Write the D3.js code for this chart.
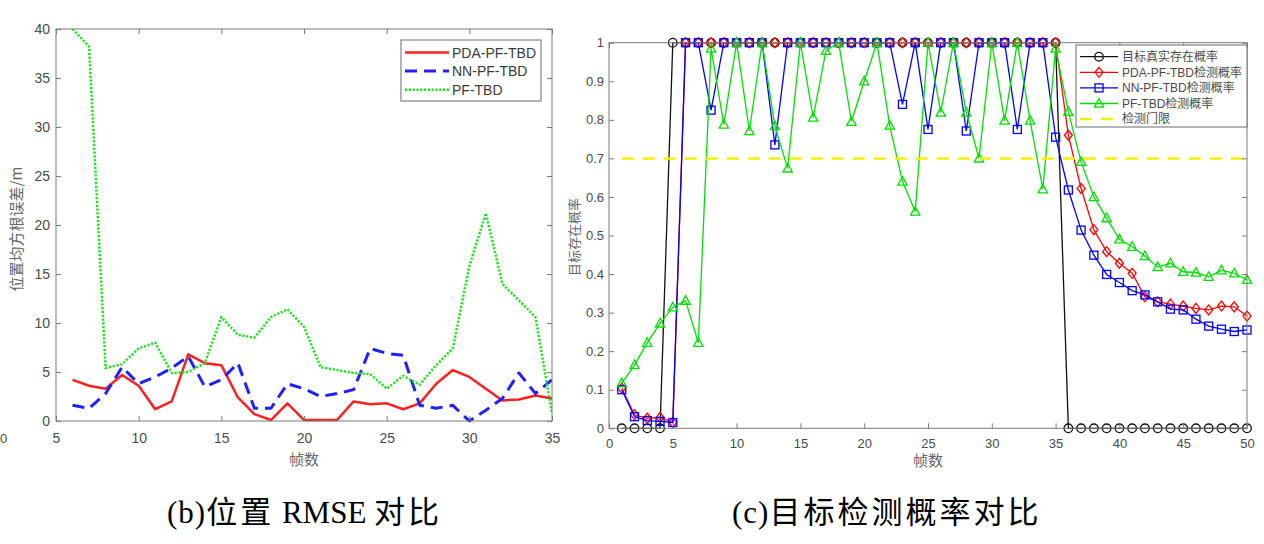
<!DOCTYPE html>
<html>
<head>
<meta charset="utf-8">
<script src="https://cdn.jsdelivr.net/npm/d3@7"></script>
<style>
  body { margin: 0; background: #fff; }
  svg { display: block; }
</style>
</head>
<body>
<svg id="chart" width="1264" height="544"></svg>
<script>
// datos (b) RMSE, frames 6..35
var rmseFrames = [6, 7, 8, 9, 10, 11, 12, 13, 14, 15, 16, 17, 18, 19, 20,
                  21, 22, 23, 24, 25, 26, 27, 28, 29, 30, 31, 32, 33, 34, 35];
var rmsePda = [4.2, 3.6, 3.3, 4.7, 3.6, 1.2, 2.0, 6.8, 5.9, 5.7, 2.4, 0.7, 0.1, 1.8, 0.1,
               0.1, 0.1, 2.0, 1.7, 1.8, 1.2, 1.8, 3.8, 5.2, 4.5, 3.3, 2.1, 2.2, 2.6, 2.3];
var rmseNn = [1.6, 1.3, 2.8, 5.5, 3.8, 4.5, 5.4, 6.6, 3.5, 4.2, 5.9, 1.3, 1.3, 3.8, 3.3,
              2.5, 2.8, 3.2, 7.4, 6.9, 6.7, 1.6, 1.3, 1.6, 0.0, 1.1, 2.3, 4.9, 2.8, 4.2];
var rmsePf = [40, 38.2, 5.4, 5.8, 7.4, 8.0, 4.9, 5.0, 5.9, 10.6, 8.8, 8.5, 10.6, 11.4, 9.6,
              5.5, 5.2, 4.9, 4.8, 3.3, 4.6, 3.7, 5.7, 7.4, 15.8, 21.2, 14.0, 12.3, 10.6, 0.8];
var rmseNames = ["PDA-PF-TBD", "NN-PF-TBD", "PF-TBD"];
var rmseXTicks = [5, 10, 15, 20, 25, 30, 35];
var rmseYTicks = [0, 5, 10, 15, 20, 25, 30, 35, 40];

// datos (c) probabilidad, frames 1..50
var probFrames = [1, 2, 3, 4, 5, 6, 7, 8, 9, 10, 11, 12, 13, 14, 15, 16, 17, 18, 19, 20,
                  21, 22, 23, 24, 25, 26, 27, 28, 29, 30, 31, 32, 33, 34, 35, 36, 37, 38, 39, 40,
                  41, 42, 43, 44, 45, 46, 47, 48, 49, 50];
var probTrue = [0, 0, 0, 0, 1, 1, 1, 1, 1, 1, 1, 1, 1, 1, 1, 1, 1, 1, 1, 1,
                1, 1, 1, 1, 1, 1, 1, 1, 1, 1, 1, 1, 1, 1, 1, 0, 0, 0, 0, 0,
                0, 0, 0, 0, 0, 0, 0, 0, 0, 0];
var probPda = [0.104, 0.035, 0.026, 0.028, 0.015, 1, 1, 1, 1, 1, 1, 1, 1, 1, 1, 1, 1, 1, 1, 1,
               1, 1, 1, 1, 1, 1, 1, 1, 1, 1, 1, 1, 1, 1, 1, 0.76, 0.622, 0.515, 0.458, 0.428,
               0.402, 0.341, 0.328, 0.322, 0.317, 0.311, 0.307, 0.317, 0.315, 0.291];
var probNn = [0.10, 0.03, 0.02, 0.018, 0.015, 1, 1, 0.825, 1, 1, 1, 1, 0.735, 1, 1, 1, 1, 1, 1, 1,
              1, 1, 0.84, 1, 0.775, 1, 1, 0.771, 1, 1, 1, 0.775, 1, 1, 0.755, 0.618, 0.514, 0.449, 0.399, 0.378,
              0.357, 0.346, 0.328, 0.309, 0.307, 0.283, 0.265, 0.257, 0.251, 0.255];
var probPf = [0.117, 0.164, 0.222, 0.272, 0.314, 0.331, 0.222, 0.985, 0.788, 1, 0.771, 1, 0.784, 0.674, 1, 0.806, 0.979, 1, 0.795, 0.9,
              1, 0.785, 0.64, 0.562, 1, 0.819, 1, 0.819, 0.70, 1, 0.798, 1, 0.798, 0.62, 0.985, 0.821, 0.691, 0.60, 0.545, 0.49,
              0.471, 0.447, 0.418, 0.428, 0.406, 0.404, 0.393, 0.41, 0.402, 0.385];
var probThreshold = 0.7;
var probNames = ["目标真实存在概率", "PDA-PF-TBD检测概率", "NN-PF-TBD检测概率", "PF-TBD检测概率", "检测门限"];
var probXTicks = [0, 5, 10, 15, 20, 25, 30, 35, 40, 45, 50];
var probYTicks = [0, 0.1, 0.2, 0.3, 0.4, 0.5, 0.6, 0.7, 0.8, 0.9, 1];

var latin = "'Liberation Sans', Arial, sans-serif";
var cjk = "'Noto Sans CJK SC', sans-serif";
var axisGrey = "#7a7a7a";
var textGrey = "#4a4a4a";

var svg = d3.select("#chart");

// dibuja una caja de ejes estilo matlab
function drawAxes(x, y, xt, yt, fs, padX, padY) {
  var x0 = x.range()[0], x1 = x.range()[1], y0 = y.range()[0], y1 = y.range()[1];
  var fmt = function(d) { return String(+d.toFixed(2)); };

  var gb = svg.append("g").attr("transform", "translate(0," + y0 + ")")
    .call(d3.axisBottom(x).tickValues(xt).tickFormat(fmt).tickSizeInner(-5).tickSizeOuter(0).tickPadding(padX));
  var gl = svg.append("g").attr("transform", "translate(" + x0 + ",0)")
    .call(d3.axisLeft(y).tickValues(yt).tickFormat(fmt).tickSizeInner(-5).tickSizeOuter(0).tickPadding(padY));
  var gt = svg.append("g").attr("transform", "translate(0," + y1 + ")")
    .call(d3.axisTop(x).tickValues(xt).tickFormat("").tickSizeInner(-5).tickSizeOuter(0));
  var gr = svg.append("g").attr("transform", "translate(" + x1 + ",0)")
    .call(d3.axisRight(y).tickValues(yt).tickFormat("").tickSizeInner(-5).tickSizeOuter(0));

  [gb, gl, gt, gr].forEach(function(g) {
    g.select(".domain").remove();
    g.selectAll("line").attr("stroke", axisGrey);
    g.selectAll("text").attr("fill", textGrey).style("font-family", latin).style("font-size", fs + "px");
  });

  svg.append("rect")
    .attr("x", x0).attr("y", y1)
    .attr("width", x1 - x0).attr("height", y0 - y1)
    .attr("fill", "none").attr("stroke", axisGrey).attr("stroke-width", 1);
}

// ---------------- (b) RMSE ----------------
var xL = d3.scaleLinear().domain([5, 35]).range([56, 552]);
var yL = d3.scaleLinear().domain([0, 40]).range([421, 29]);

var rmseStyles = [
  { data: rmsePda, colour: "#ff2020", width: 2.5, dash: null },
  { data: rmseNn, colour: "#2020ff", width: 3, dash: "12,7" },
  { data: rmsePf, colour: "#20e020", width: 2.5, dash: "2.2,1.6" }
];

var lineL = d3.line()
  .x(function(d, i) { return xL(rmseFrames[i]); })
  .y(function(d) { return yL(d); });

svg.append("clipPath").attr("id", "clipL").append("rect")
  .attr("x", 56).attr("y", 27).attr("width", 496).attr("height", 396);

rmseStyles.forEach(function(s) {
  svg.append("path")
    .attr("clip-path", "url(#clipL)")
    .attr("d", lineL(s.data))
    .attr("fill", "none")
    .attr("stroke", s.colour)
    .attr("stroke-width", s.width)
    .attr("stroke-dasharray", s.dash)
    .attr("stroke-linejoin", "round");
});

drawAxes(xL, yL, rmseXTicks, rmseYTicks, 14, 12, 6);

// leyenda (b)
var legL = svg.append("g");
legL.append("rect").attr("x", 401).attr("y", 40).attr("width", 140).attr("height", 61)
  .attr("fill", "#fff").attr("stroke", "#6a6a6a");
rmseStyles.forEach(function(s, i) {
  var yy = 52.5 + i * 18.6;
  legL.append("line").attr("x1", 405).attr("x2", 449).attr("y1", yy).attr("y2", yy)
    .attr("stroke", s.colour).attr("stroke-width", s.width).attr("stroke-dasharray", s.dash);
  legL.append("text").attr("x", 452).attr("y", yy).attr("dy", "0.36em")
    .style("font-family", latin).style("font-size", "14px").attr("fill", "#3a3a3a")
    .text(rmseNames[i]);
});

svg.append("text")
  .attr("transform", "translate(17,229) rotate(-90)")
  .attr("text-anchor", "middle").attr("dy", "0.36em")
  .style("font-family", cjk).style("font-size", "15px").attr("fill", "#666")
  .text("位置均方根误差/m");

svg.append("text").attr("x", 304).attr("y", 460).attr("dy", "0.36em")
  .attr("text-anchor", "middle")
  .style("font-family", cjk).style("font-size", "15px").attr("fill", "#666")
  .text("帧数");

// resto del panel anterior
svg.append("text").attr("x", 0).attr("y", 443)
  .style("font-family", latin).style("font-size", "13px").attr("fill", textGrey)
  .text("0");

// ---------------- (c) probabilidad ----------------
var xR = d3.scaleLinear().domain([0, 50]).range([609, 1247]);
var yR = d3.scaleLinear().domain([0, 1]).range([428.3, 42.7]);

function marker(g, kind, colour) {
  if (kind === "circle") {
    g.append("circle").attr("r", 4.3).attr("fill", "none").attr("stroke", colour).attr("stroke-width", 1.3);
  } else if (kind === "diamond") {
    g.append("path").attr("d", "M0,-5L4,0L0,5L-4,0Z").attr("fill", "none").attr("stroke", colour).attr("stroke-width", 1.3);
  } else if (kind === "square") {
    g.append("rect").attr("x", -4).attr("y", -4).attr("width", 8).attr("height", 8)
      .attr("fill", "none").attr("stroke", colour).attr("stroke-width", 1.3);
  } else if (kind === "triangle") {
    g.append("path").attr("d", "M0,-5L4.6,3.6L-4.6,3.6Z").attr("fill", "none").attr("stroke", colour).attr("stroke-width", 1.3);
  }
}

var probStyles = [
  { data: probTrue, colour: "#111111", kind: "circle" },
  { data: probPda, colour: "#ff0000", kind: "diamond" },
  { data: probNn, colour: "#0000ff", kind: "square" },
  { data: probPf, colour: "#00e000", kind: "triangle" }
];

var lineR = d3.line()
  .x(function(d, i) { return xR(probFrames[i]); })
  .y(function(d) { return yR(d); });

probStyles.forEach(function(s) {
  svg.append("path")
    .attr("d", lineR(s.data))
    .attr("fill", "none")
    .attr("stroke", s.colour)
    .attr("stroke-width", 1.3);
  svg.append("g").selectAll("g")
    .data(s.data)
    .enter().append("g")
    .attr("transform", function(d, i) { return "translate(" + xR(probFrames[i]) + "," + yR(d) + ")"; })
    .each(function() { marker(d3.select(this), s.kind, s.colour); });
});

// umbral
svg.append("line")
  .attr("x1", xR(probFrames[0])).attr("x2", xR(probFrames[probFrames.length - 1]))
  .attr("y1", yR(probThreshold)).attr("y2", yR(probThreshold))
  .attr("stroke", "#f2f200").attr("stroke-width", 2.5).attr("stroke-dasharray", "12,9");

drawAxes(xR, yR, probXTicks, probYTicks, 13, 10, 5);

// leyenda (c)
var legR = svg.append("g");
legR.append("rect").attr("x", 1076).attr("y", 45).attr("width", 171).attr("height", 82)
  .attr("fill", "#fff").attr("stroke", "#6a6a6a");
probNames.forEach(function(name, i) {
  var yy = 56.7 + i * 15.6;
  if (i < 4) {
    var s = probStyles[i];
    legR.append("line").attr("x1", 1080).attr("x2", 1118).attr("y1", yy).attr("y2", yy)
      .attr("stroke", s.colour).attr("stroke-width", 1.3);
    var mg = legR.append("g").attr("transform", "translate(1099," + yy + ")");
    marker(mg, s.kind, s.colour);
  } else {
    legR.append("line").attr("x1", 1080).attr("x2", 1118).attr("y1", yy).attr("y2", yy)
      .attr("stroke", "#f2f200").attr("stroke-width", 2.5).attr("stroke-dasharray", "12,9");
  }
  legR.append("text").attr("x", 1122).attr("y", yy).attr("dy", "0.36em")
    .style("font-family", latin + "," + cjk).style("font-size", "12px").attr("fill", "#4a4a4a")
    .text(name);
});

svg.append("text")
  .attr("transform", "translate(574,237) rotate(-90)")
  .attr("text-anchor", "middle").attr("dy", "0.36em")
  .style("font-family", cjk).style("font-size", "13px").attr("fill", "#666")
  .text("目标存在概率");

svg.append("text").attr("x", 928).attr("y", 461).attr("dy", "0.36em")
  .attr("text-anchor", "middle")
  .style("font-family", cjk).style("font-size", "15px").attr("fill", "#666")
  .text("帧数");

// titulos: partes latinas sin espaciado, partes chinas con espaciado
var serif = "'Liberation Serif', 'Noto Sans CJK SC', serif";
function caption(x, parts) {
  var t = svg.append("text").attr("x", x).attr("y", 523)
    .style("font-family", serif).style("font-size", "31px").attr("fill", "#000");
  parts.forEach(function(p) {
    t.append("tspan").style("letter-spacing", p[1] + "px").text(p[0]);
  });
}
caption(167, [["(b)", 1], ["位置", 3], [" RMSE ", 0], ["对比", 3]]);
caption(732, [["(c)", 1], ["目标检测概率对比", 3]]);
</script>
</body>
</html>
